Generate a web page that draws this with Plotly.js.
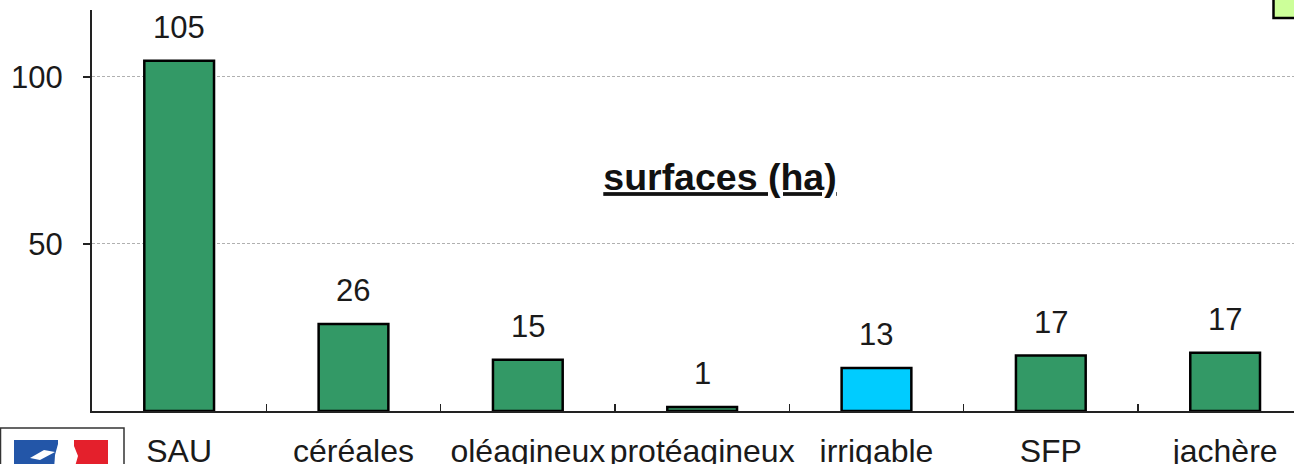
<!DOCTYPE html>
<html>
<head>
<meta charset="utf-8">
<script src="https://cdn.plot.ly/plotly-3.0.1.min.js"></script>
<style>html,body{margin:0;padding:0;background:#fff;}#chart{width:1294px;height:464px;}</style>
</head>
<body>
<div id="chart"></div>
<script>
const categories = ["SAU", "céréales", "oléagineux", "protéagineux", "irrigable", "SFP", "jachère"];
const values = [104.8, 26, 15.3, 1.2, 12.9, 16.6, 17.4];
const valueLabels = ["105", "26", "15", "1", "13", "17", "17"];
const barColors = ["#339966", "#339966", "#339966", "#339966", "#00CCFF", "#339966", "#339966"];
const yTickVals = [50, 100];
const yTickText = ["50", "100"];
const chartTitle = "surfaces (ha)";

const FONT = "Arial, 'Liberation Sans', sans-serif";

const trace = {
  type: "bar",
  x: categories,
  y: values,
  marker: { color: barColors, line: { color: "#000", width: 2.5 } },
  hoverinfo: "none"
};

const annotations = categories.map((c, i) => ({
  x: c, y: values[i], xref: "x", yref: "y",
  text: valueLabels[i], showarrow: false,
  yanchor: "bottom", yshift: 14,
  font: { family: FONT, size: 31, color: "#1a1a1a" }
}));

// plot area: left 92, right 1294, top 10, bottom 411
const px = v => (v - 92) / 1202;
const py = v => (411 - v) / 401;

const shapes = [
  // logo frame
  { type: "rect", xref: "paper", yref: "paper", x0: px(0.5), x1: px(124), y0: py(470), y1: py(428),
    line: { color: "#333", width: 1.5 }, fillcolor: "#fff", layer: "above" },
  { type: "rect", xref: "paper", yref: "paper", x0: px(14), x1: px(58), y0: py(470), y1: py(440),
    line: { width: 0 }, fillcolor: "#2356a8", layer: "above" },
  { type: "rect", xref: "paper", yref: "paper", x0: px(74), x1: px(108), y0: py(470), y1: py(440),
    line: { width: 0 }, fillcolor: "#e4202c", layer: "above" },
  { type: "path", xref: "paper", yref: "paper",
    path: `M ${px(54)} ${py(470)} L ${px(55)} ${py(455)} L ${px(58)} ${py(444)} L ${px(66)} ${py(440)} L ${px(74)} ${py(446)} L ${px(78)} ${py(456)} L ${px(74)} ${py(470)} Z`,
    line: { width: 0 }, fillcolor: "#fff", layer: "above" },
  { type: "path", xref: "paper", yref: "paper",
    path: `M ${px(30)} ${py(458)} L ${px(44)} ${py(450)} L ${px(55)} ${py(452)} L ${px(40)} ${py(460)} Z`,
    line: { width: 0 }, fillcolor: "#fff", layer: "above" },
  // small green box top-right
  { type: "rect", xref: "paper", yref: "paper", x0: px(1273.5), x1: px(1296), y0: py(18), y1: py(-3),
    line: { color: "#000", width: 2.5 }, fillcolor: "#ccff99", layer: "above" }
];

const layout = {
  width: 1294, height: 464,
  margin: { l: 92, r: 0, t: 10, b: 53, pad: 0 },
  paper_bgcolor: "#fff", plot_bgcolor: "#fff",
  showlegend: false,
  bargap: 0.6,
  font: { family: FONT, size: 31, color: "#1a1a1a" },
  title: {
    text: "<b><u>" + chartTitle + "</u></b>",
    font: { family: FONT, size: 37.5, color: "#111" },
    x: 720 / 1294, xanchor: "center", xref: "container",
    y: 1 - 177 / 464, yanchor: "middle", yref: "container"
  },
  xaxis: {
    type: "category",
    range: [-0.5, 6.395],
    showline: true, linecolor: "#222", linewidth: 1.5,
    ticks: "inside", tickson: "boundaries", ticklen: 7, tickcolor: "#222", tickwidth: 1.5,
    showgrid: false, zeroline: false,
    tickangle: 0,
    ticklabelstandoff: 11,
    tickfont: { family: FONT, size: 32, color: "#1a1a1a" },
    fixedrange: true
  },
  yaxis: {
    range: [0, 120],
    tickvals: yTickVals, ticktext: yTickText,
    showline: true, linecolor: "#222", linewidth: 2,
    ticks: "outside", ticklen: 7, tickcolor: "#222", tickwidth: 1.5,
    showgrid: true, gridcolor: "#b0b0b0", gridwidth: 1, griddash: "3px,2px",
    zeroline: false,
    ticklabelstandoff: 14,
    tickfont: { family: FONT, size: 31, color: "#1a1a1a" },
    fixedrange: true
  },
  annotations: annotations,
  shapes: shapes
};

Plotly.newPlot("chart", [trace], layout, { displayModeBar: false, staticPlot: true });
</script>
</body>
</html>
